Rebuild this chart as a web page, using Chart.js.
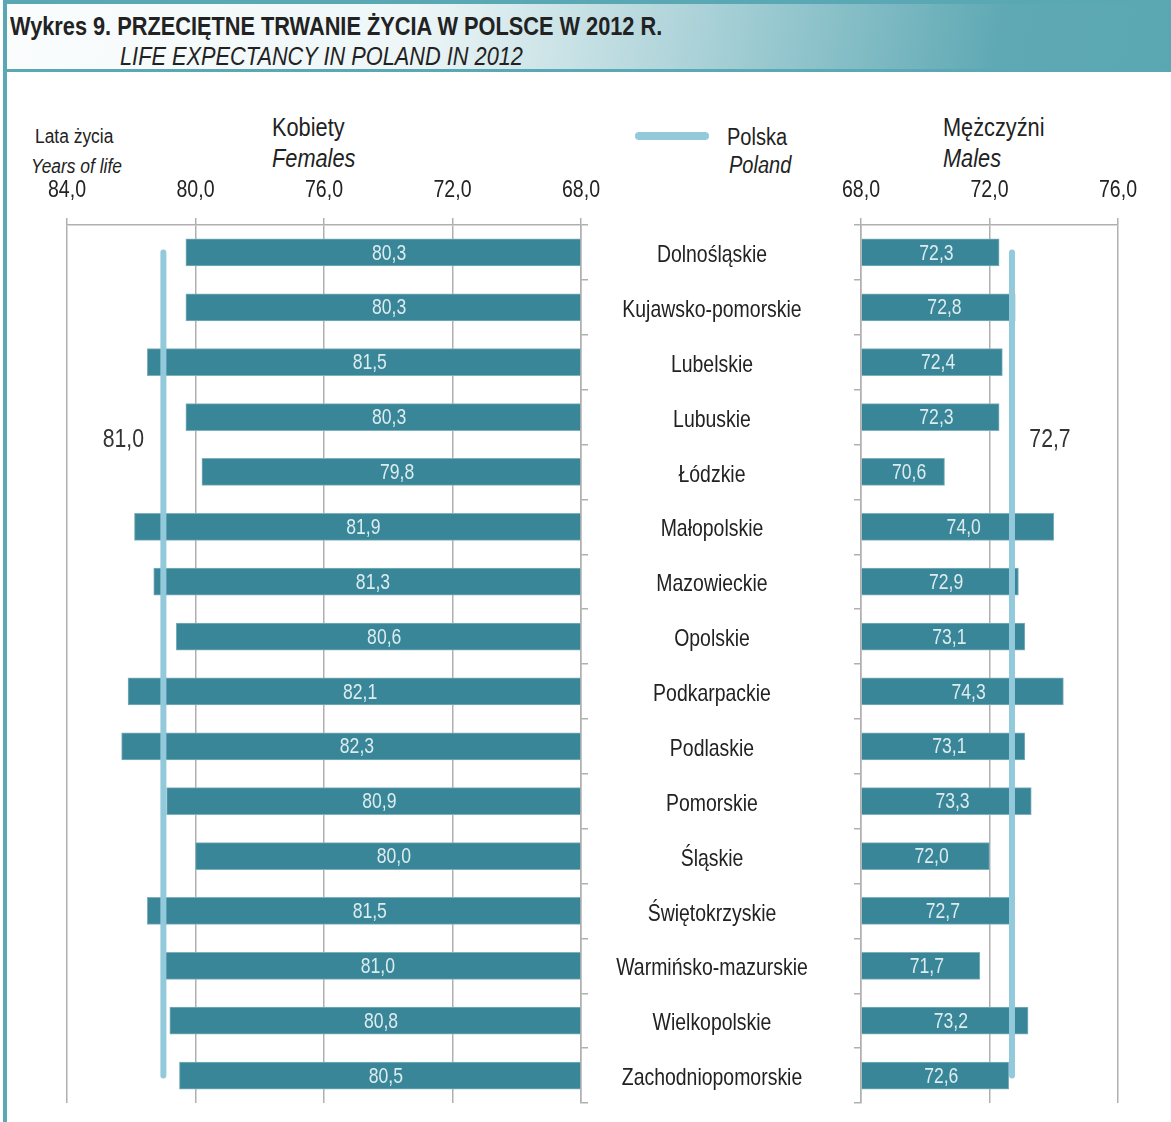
<!DOCTYPE html>
<html>
<head>
<meta charset="utf-8">
<script src="https://cdn.jsdelivr.net/npm/chart.js@4.4.1/dist/chart.umd.min.js"></script>
<style>
  body { margin: 0; width: 1171px; height: 1122px; background: #fff; position: relative; overflow: hidden;
         font-family: "Liberation Sans", Arial, sans-serif; color: #222; }
  .abs { position: absolute; white-space: nowrap; }
  .nar { transform: scaleX(0.87); transform-origin: 0 0; }
  #banner { left: 3px; top: 0; width: 1168px; height: 72px; box-sizing: border-box;
            border-top: 4px solid #5aa8b3; border-bottom: 3px solid #5aa8b3;
            background: linear-gradient(100deg, #fbfdfd 0%, #eef6f7 35%, #a9d1d7 60%, #5fa9b4 85%, #5aa7b2 100%); }
  #leftbar { left: 3px; top: 0; width: 4px; height: 1122px; background: #5aa8b3; }
  #title { left: 10px; top: 12px; font-size: 25px; font-weight: bold; color: #222; }
  #subtitle { left: 120px; top: 42px; font-size: 25px; font-style: italic; color: #222; }
  canvas { position: absolute; }
</style>
</head>
<body>
<div id="banner" class="abs"></div>
<div id="leftbar" class="abs"></div>
<div id="title" class="abs nar">Wykres 9. PRZECIĘTNE TRWANIE ŻYCIA W POLSCE W 2012 R.</div>
<div id="subtitle" class="abs nar">LIFE EXPECTANCY IN POLAND IN 2012</div>

<div class="abs nar" style="left:35px;top:125px;font-size:20px;">Lata życia</div>
<div class="abs nar" style="left:31px;top:155px;font-size:20px;font-style:italic;">Years of life</div>
<div class="abs nar" style="left:272px;top:113px;font-size:25px;">Kobiety</div>
<div class="abs nar" style="left:272px;top:144px;font-size:25px;font-style:italic;">Females</div>
<div class="abs" style="left:635px;top:132px;width:74px;height:8px;border-radius:4px;background:#93cadb;"></div>
<div class="abs nar" style="left:727px;top:124px;font-size:23px;">Polska</div>
<div class="abs nar" style="left:729px;top:152px;font-size:23px;font-style:italic;">Poland</div>
<div class="abs nar" style="left:943px;top:113px;font-size:25px;">Mężczyźni</div>
<div class="abs nar" style="left:943px;top:144px;font-size:25px;font-style:italic;">Males</div>

<canvas id="females" width="600" height="962" style="left:0;top:160px;width:600px;height:962px;"></canvas>
<canvas id="males" width="581" height="962" style="left:590px;top:160px;width:581px;height:962px;"></canvas>

<script>
const regions = ["Dolnośląskie", "Kujawsko-pomorskie", "Lubelskie", "Lubuskie", "Łódzkie", "Małopolskie",
  "Mazowieckie", "Opolskie", "Podkarpackie", "Podlaskie", "Pomorskie", "Śląskie", "Świętokrzyskie",
  "Warmińsko-mazurskie", "Wielkopolskie", "Zachodniopomorskie"];
const females = [80.3, 80.3, 81.5, 80.3, 79.8, 81.9, 81.3, 80.6, 82.1, 82.3, 80.9, 80.0, 81.5, 81.0, 80.8, 80.5];
const males = [72.3, 72.8, 72.4, 72.3, 70.6, 74.0, 72.9, 73.1, 74.3, 73.1, 73.3, 72.0, 72.7, 71.7, 73.2, 72.6];
const polandFemales = 81.0;
const polandMales = 72.7;
const femaleTicks = [84, 80, 76, 72, 68];
const maleTicks = [68, 72, 76];

const FONT = '"Liberation Sans", Arial, sans-serif';
const barColor = "#3a8699";
const lineColor = "#93cadb";
const gridColor = "#b0b0b0";
const fmt = v => v.toFixed(1).replace(".", ",");

// the reference uses a narrow face; squeeze the regular one horizontally
function narrowText(ctx, text, x, y, sx) {
  ctx.save();
  ctx.translate(x, y);
  ctx.scale(sx, 1);
  ctx.fillText(text, 0, 0);
  ctx.restore();
}

function xScale(ticks, reverse) {
  return {
    type: "linear", position: "top", reverse,
    min: Math.min(...ticks), max: Math.max(...ticks),
    afterBuildTicks: s => { s.ticks = ticks.map(v => ({ value: v })); },
    afterFit: s => { s.height = 65; s.paddingLeft = 0; s.paddingRight = 0; },
    ticks: { display: false },
    grid: { color: gridColor, lineWidth: 1.5, tickLength: 7 },
    border: { display: true, color: gridColor, width: 1.5 }
  };
}

function yScale(position) {
  return {
    type: "category", position,
    afterFit: s => { s.width = 19; },
    ticks: { display: false },
    grid: { offset: true, drawOnChartArea: false, color: gridColor, lineWidth: 1.5, tickLength: 7 },
    border: { display: true, color: gridColor, width: 1.5 }
  };
}

const labelsPlugin = {
  id: "labels",
  afterDatasetsDraw(chart, args, opts) {
    const ctx = chart.ctx;
    const meta = chart.getDatasetMeta(1);
    const data = chart.data.datasets[1].data;
    const x = chart.scales.x, y = chart.scales.y;
    ctx.save();
    ctx.textBaseline = "middle";
    ctx.textAlign = "center";

    // axis tick labels
    ctx.fillStyle = "#222";
    ctx.font = "23px " + FONT;
    x.ticks.forEach(t => {
      narrowText(ctx, fmt(t.value), x.getPixelForValue(t.value), chart.chartArea.top - 34, 0.85);
    });

    // values inside bars
    ctx.fillStyle = "#dcecef";
    ctx.font = "22px " + FONT;
    meta.data.forEach((bar, i) => {
      const mid = (bar.x + bar.base) / 2;
      narrowText(ctx, fmt(data[i]), mid + 6, bar.y + 1, 0.8);
    });

    // Poland value beside its line
    ctx.fillStyle = "#333";
    ctx.font = "25px " + FONT;
    const ly = (y.getPixelForValue(3) + y.getPixelForValue(4)) / 2 - 4;
    narrowText(ctx, fmt(opts.poland), x.getPixelForValue(opts.poland) + opts.dx, ly, 0.85);

    // region names in the middle column
    if (opts.names) {
      ctx.fillStyle = "#222";
      ctx.font = "24px " + FONT;
      regions.forEach((r, i) => {
        narrowText(ctx, r, chart.chartArea.left - 149, y.getPixelForValue(i) + 3, 0.81);
      });
    }
    ctx.restore();
  }
};

function makeChart(id, values, poland, ticks, reverse, yPos, padding, labelOpts) {
  return new Chart(document.getElementById(id), {
    type: "bar",
    data: {
      labels: regions,
      datasets: [
        {
          type: "line", indexAxis: "y", data: regions.map(() => poland),
          borderColor: lineColor, borderWidth: 6, borderCapStyle: "round",
          pointRadius: 0, fill: false, order: 0
        },
        {
          data: values, base: 68, backgroundColor: barColor, borderColor: "#7fb0bd",
          borderWidth: 1, barThickness: 27, order: 1
        }
      ]
    },
    options: {
      indexAxis: "y",
      responsive: false,
      animation: false,
      layout: { padding },
      plugins: { legend: { display: false }, tooltip: { enabled: false }, labels: labelOpts },
      scales: { x: xScale(ticks, reverse), y: yScale(yPos) }
    },
    plugins: [labelsPlugin]
  });
}

makeChart("females", females, polandFemales, femaleTicks, true, "right",
  { left: 67, right: 0, top: 0, bottom: 19 }, { poland: polandFemales, dx: -40, names: false });
makeChart("males", males, polandMales, maleTicks, false, "left",
  { left: 252, right: 53, top: 0, bottom: 19 }, { poland: polandMales, dx: 38, names: true });
</script>
</body>
</html>
